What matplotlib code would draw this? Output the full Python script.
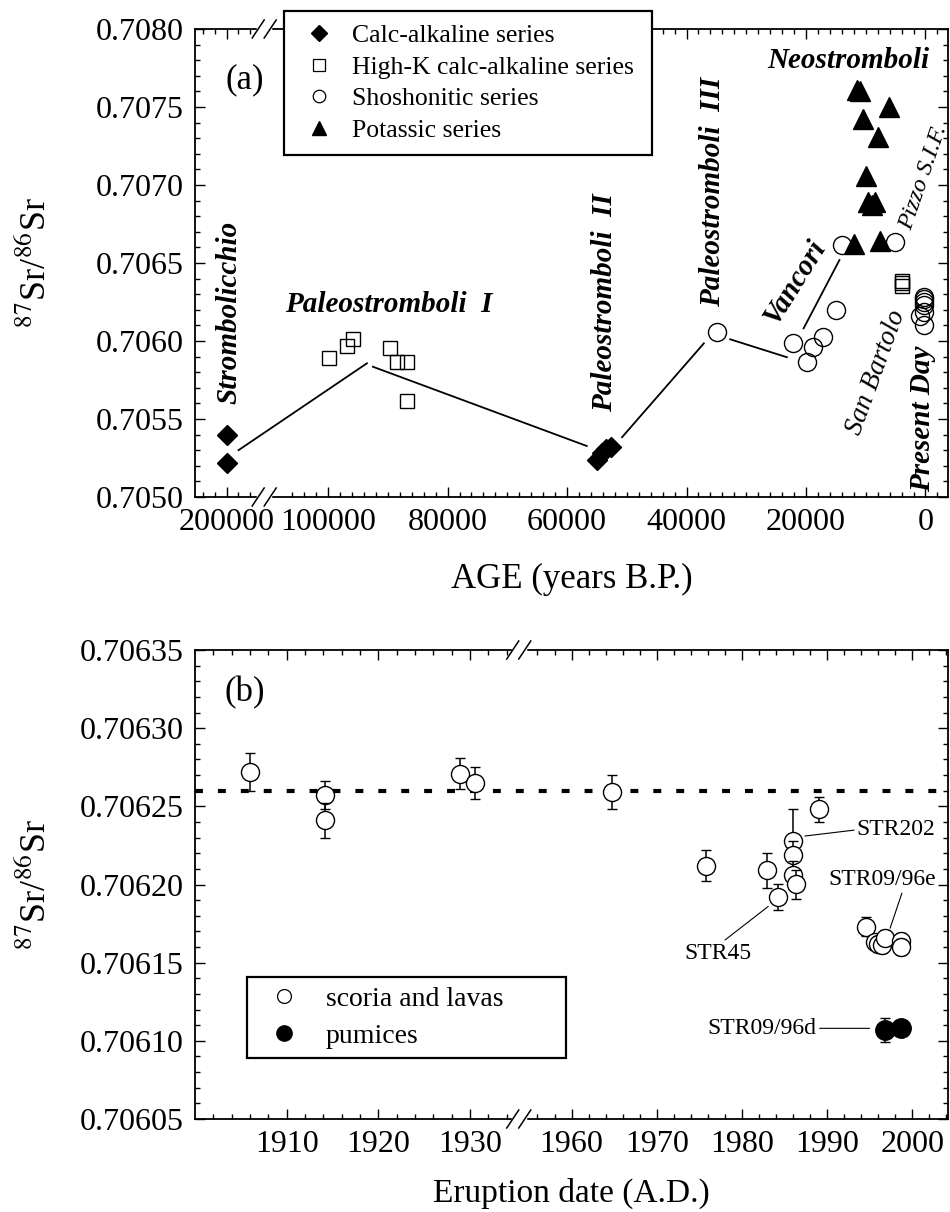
import numpy as np
import matplotlib
matplotlib.use('Agg')
import matplotlib.pyplot as plt
from matplotlib.lines import Line2D
from matplotlib.ticker import FixedLocator, FormatStrFormatter

plt.rcParams['font.family'] = ['Liberation Serif', 'DejaVu Serif']
plt.rcParams['mathtext.fontset'] = 'stix'

# ----------------------------
# Panel (a): age (years B.P.) vs 87Sr/86Sr
# ----------------------------
calc_age = [200000, 200000, 55000, 54200, 53500, 52700]
calc_sr = [0.70540, 0.70522, 0.70524, 0.70528, 0.70531, 0.70532]

highk_age = [99800, 96800, 95800, 89700, 88500, 86800, 86800, 3900, 3900, 3900]
highk_sr = [0.705889, 0.705968, 0.706011, 0.705953, 0.705867, 0.705867, 0.705617,
            0.706385, 0.706370, 0.706353]

shosh_age = [34900, 22100, 18800, 19900, 17100, 14900, 14000, 5100,
             300, 300, 300, 300, 300, 900, 300]
shosh_sr = [0.706060, 0.705985, 0.705963, 0.705867, 0.706028, 0.706199, 0.706615, 0.706637,
            0.706284, 0.706267, 0.706250, 0.706233, 0.706188, 0.706160, 0.706100]

pot_age = [11500, 11000, 6100, 10500, 8000, 10000, 9600, 8500, 9000, 11900, 7600]
pot_sr = [0.70761, 0.70760, 0.70750, 0.70742, 0.70731, 0.70706, 0.70689, 0.70689,
          0.70687, 0.70662, 0.70664]

# trend line segments (start -> end)
seg_age0 = [198000, 92500, 50800, 32700, 20400]
seg_sr0 = [0.705300, 0.705835, 0.705383, 0.706011, 0.706081]
seg_age1 = [93500, 56700, 37100, 23200, 14400]
seg_sr1 = [0.705857, 0.705327, 0.705985, 0.705896, 0.706519]

age_ticks = [200000, 100000, 80000, 60000, 40000, 20000, 0]

# ----------------------------
# Panel (b): eruption date vs 87Sr/86Sr
# ----------------------------
yr_open = [1906.0, 1914.2, 1914.2, 1928.9, 1930.6, 1964.7, 1975.8, 1983.0, 1984.2,
           1986.0, 1986.0, 1986.0, 1986.3, 1989.0, 1994.6, 1995.6, 1996.0, 1996.4,
           1996.8, 1998.7, 1998.7]
sr_open = [0.706272, 0.706257, 0.706241, 0.706271, 0.706265, 0.706259, 0.706212, 0.706209,
           0.706192, 0.706228, 0.706219, 0.706206, 0.706200, 0.706248, 0.706173, 0.706163,
           0.706162, 0.706161, 0.706166, 0.706164, 0.706160]
err_open = [0.000012, 0.000009, 0.000011, 0.000010, 0.000010, 0.000011, 0.000010, 0.000011,
            0.000008, 0.000020, 0.000009, 0.000009, 0.000009, 0.000008, 0.000006, 0.000005,
            0.000005, 0.000005, 0.000005, 0.000005, 0.000005]

yr_pum = [1996.8, 1998.7]
sr_pum = [0.706107, 0.706108]
err_pum = [0.0000077, 0.000004]

present_sr = 0.70626
year_ticks = [1910, 1920, 1930, 1960, 1970, 1980, 1990, 2000]

# ----------------------------
# Broken-axis scales
# ----------------------------
age_knots = [-1e6, 108000, 195000, 1e7]
age_pos = [-1e6, 108000, 112000, 1e7 - 83000]

def age_fwd(a):
    return np.interp(a, age_knots, age_pos)

def age_inv(p):
    return np.interp(p, age_pos, age_knots)

yr_knots = [1800, 1935, 1954, 2100]
yr_pos = [(1800 - 1900) * 9.17, (1935 - 1900) * 9.17,
          376.7 + (1954 - 1960) * 8.52, 376.7 + (2100 - 1960) * 8.52]

def yr_fwd(y):
    return np.interp(y, yr_knots, yr_pos)

def yr_inv(p):
    return np.interp(p, yr_pos, yr_knots)


fig = plt.figure(figsize=(9.5, 12.12), dpi=100)
FW, FH = 950, 1212
axa = fig.add_axes([195 / FW, 1 - 497 / FH, 753 / FW, 468 / FH])
axb = fig.add_axes([195 / FW, 1 - 1119 / FH, 753 / FW, 469 / FH])

tick_fs = 23

def style_axes(ax):
    for s in ax.spines.values():
        s.set_linewidth(1.3)
    ax.tick_params(which='both', direction='in', top=True, right=True, width=1.0,
                   labelsize=tick_fs, pad=8)
    ax.tick_params(which='major', length=7)
    ax.tick_params(which='minor', length=3.5)

def break_marks(ax, xfrac):
    pos = ax.get_position()
    x = pos.x0 + xfrac * pos.width
    for y in (pos.y0, pos.y1):
        fig.add_artist(Line2D([x - 6 / FW, x + 6 / FW], [y, y], color='white', lw=2.5,
                              transform=fig.transFigure))
        for dx in (-6, 6):
            fig.add_artist(Line2D([x + (dx - 6) / FW, x + (dx + 6) / FW],
                                  [y - 9 / FH, y + 9 / FH], color='black', lw=1.1,
                                  transform=fig.transFigure))

# ---------- panel (a)
ax = axa
ax.set_xscale('function', functions=(age_fwd, age_inv))
for a0, s0, a1, s1 in zip(seg_age0, seg_sr0, seg_age1, seg_sr1):
    ax.plot([a0, a1], [s0, s1], color='black', lw=1.3, zorder=2)
ax.plot(shosh_age, shosh_sr, ls='none', marker='o', ms=13, mfc='none', mec='black', mew=1.0, zorder=3)
ax.plot(highk_age, highk_sr, ls='none', marker='s', ms=10.5, mfc='none', mec='black', mew=1.0, zorder=3)
ax.plot(pot_age, pot_sr, ls='none', marker='^', ms=15, color='black', zorder=4)
ax.plot(calc_age, calc_sr, ls='none', marker='D', ms=10.5, color='black', zorder=4)

ax.set_xlim(205280, -3770)
ax.set_ylim(0.7050, 0.7080)
ax.xaxis.set_major_locator(FixedLocator(age_ticks))
ax.xaxis.set_major_formatter(FormatStrFormatter('%d'))
ax.xaxis.set_minor_locator(FixedLocator(list(np.arange(-2000, 108000, 2000)) +
                                        [196000, 198000, 202000, 204000]))
ax.yaxis.set_major_locator(FixedLocator(np.arange(0.7050, 0.70801, 0.0005)))
ax.yaxis.set_major_formatter(FormatStrFormatter('%.4f'))
ax.yaxis.set_minor_locator(FixedLocator(np.arange(0.7050, 0.70801, 0.0001)))
style_axes(ax)
ax.set_xlabel('AGE (years B.P.)', fontsize=25)
ax.xaxis.set_label_coords(0.5, -0.14)
ax.set_ylabel(r'$^{87}$Sr/$^{86}$Sr', fontsize=26)
ax.yaxis.set_label_coords(-0.188, 0.5)
ax.text(0.066, 0.891, '(a)', transform=ax.transAxes, fontsize=25, ha='center', va='center')

bi = dict(fontsize=21, fontweight='bold', fontstyle='italic', ha='center', va='center',
          rotation_mode='anchor')
ax.text(199600, 0.706183, 'Strombolicchio', rotation=90, **bi)
ax.text(89870, 0.706231, 'Paleostromboli  I', **bi)
ax.text(53690, 0.706244, 'Paleostromboli  II', rotation=90, **bi)
ax.text(35590, 0.706958, 'Paleostromboli  III', rotation=90, **bi)
ax.text(21860, 0.706378, 'Vancori', rotation=58, **bi)
ax.text(12980, 0.707801, 'Neostromboli', **bi)
ax.text(420, 0.705500, 'Present Day', rotation=90, **bi)
ax.text(250, 0.707045, 'Pizzo S.I.F.', rotation=71, fontsize=17.5, fontstyle='italic',
        ha='center', va='center', rotation_mode='anchor')
ax.text(8290, 0.705801, 'San Bartolo', rotation=70, fontsize=19.5, fontstyle='italic',
        ha='center', va='center', rotation_mode='anchor')

handles_a = [
    Line2D([], [], ls='none', marker='D', ms=8, color='black'),
    Line2D([], [], ls='none', marker='s', ms=8, mfc='white', mec='black', mew=0.9),
    Line2D([], [], ls='none', marker='o', ms=9, mfc='white', mec='black', mew=0.9),
    Line2D([], [], ls='none', marker='^', ms=10, color='black'),
]
labels_a = ['Calc-alkaline series', 'High-K calc-alkaline series', 'Shoshonitic series',
            'Potassic series']
leg = ax.legend(handles_a, labels_a, loc='upper left',
                bbox_to_anchor=(89 / 753, (497 - 155) / 468, 368 / 753, 144 / 468),
                mode='expand', borderaxespad=0, fontsize=18.5, frameon=True, fancybox=False,
                framealpha=1, edgecolor='black', borderpad=0.5, handlelength=1.7,
                handletextpad=0.46, labelspacing=0.34)
leg.get_frame().set_linewidth(1.6)

# ---------- panel (b)
ax = axb
ax.set_xscale('function', functions=(yr_fwd, yr_inv))
ax.axhline(present_sr, color='black', lw=3, ls=(0, (1.9, 3.6)), dash_capstyle='butt', zorder=2)
z = 3
for x, y, e in zip(yr_open, sr_open, err_open):
    ax.errorbar([x], [y], yerr=[e], fmt='o', ms=13, mfc='white', mec='black', mew=1.0,
                ecolor='black', elinewidth=1.1, capsize=3.5, capthick=1.6, zorder=z)
    z += 1
pum_ecol = ['black', '0.6']
for x, y, e, c in zip(yr_pum, sr_pum, err_pum, pum_ecol):
    ax.errorbar([x], [y], yerr=[e], fmt='o', ms=14, mfc='black', mec='black', mew=1.0,
                ecolor=c, elinewidth=1.1, capsize=3.5, capthick=1.6, zorder=z)
    z += 1

ax.set_xlim(1900, 2004.2)
ax.set_ylim(0.70605, 0.70635)
ax.xaxis.set_major_locator(FixedLocator(year_ticks))
ax.xaxis.set_major_formatter(FormatStrFormatter('%d'))
ax.xaxis.set_minor_locator(FixedLocator(list(range(1902, 1935, 2)) + list(range(1956, 2005, 2))))
ax.yaxis.set_major_locator(FixedLocator(np.arange(0.70605, 0.706351, 0.00005)))
ax.yaxis.set_major_formatter(FormatStrFormatter('%.5f'))
ax.yaxis.set_minor_locator(FixedLocator(np.arange(0.70605, 0.706351, 0.00001)))
style_axes(ax)
ax.set_xlabel('Eruption date (A.D.)', fontsize=24)
ax.xaxis.set_label_coords(0.5, -0.125)
ax.set_ylabel(r'$^{87}$Sr/$^{86}$Sr', fontsize=26)
ax.yaxis.set_label_coords(-0.188, 0.5)
ax.text(0.066, 0.908, '(b)', transform=ax.transAxes, fontsize=25, ha='center', va='center')

lead = dict(arrowstyle='-', lw=0.8, color='black', shrinkA=0, shrinkB=0)
ax.annotate('STR202', xy=(1987.4, 0.706231), xytext=(1993.5, 0.706235), fontsize=17,
            ha='left', va='center', arrowprops=dict(relpos=(0, 0.5), **lead))
ax.annotate('STR09/96e', xy=(1997.4, 0.706172), xytext=(1996.5, 0.706203), fontsize=17,
            ha='center', va='center', arrowprops=dict(relpos=(0.69, 0), **lead))
ax.annotate('STR45', xy=(1983.1, 0.706186), xytext=(1977.2, 0.706156), fontsize=17,
            ha='center', va='center', arrowprops=dict(relpos=(0.55, 1), **lead))
ax.annotate('STR09/96d', xy=(1995.0, 0.706108), xytext=(1988.8, 0.706108), fontsize=17,
            ha='right', va='center', arrowprops=dict(relpos=(1, 0.5), **lead))

handles_b = [
    Line2D([], [], ls='none', marker='o', ms=10, mfc='white', mec='black', mew=0.9),
    Line2D([], [], ls='none', marker='o', ms=11, color='black'),
]
leg = ax.legend(handles_b, ['scoria and lavas', 'pumices'], loc='upper left',
                bbox_to_anchor=(51.7 / 753, (1119 - 1058) / 469, 319 / 753, 81 / 469),
                mode='expand', borderaxespad=0, fontsize=20, frameon=True, fancybox=False,
                framealpha=1, edgecolor='black', borderpad=0.35, handlelength=1.95,
                handletextpad=0.54, labelspacing=0.4)
leg.get_frame().set_linewidth(1.6)

# break marks on both panels
fig.canvas.draw()
xb = axa.transAxes.inverted().transform(axa.transData.transform((166700, 0.706)))[0]
break_marks(axa, xb)
xb = axb.transAxes.inverted().transform(axb.transData.transform((1947, 0.7062)))[0]
break_marks(axb, xb)

fig.savefig('out.png', dpi=100)
